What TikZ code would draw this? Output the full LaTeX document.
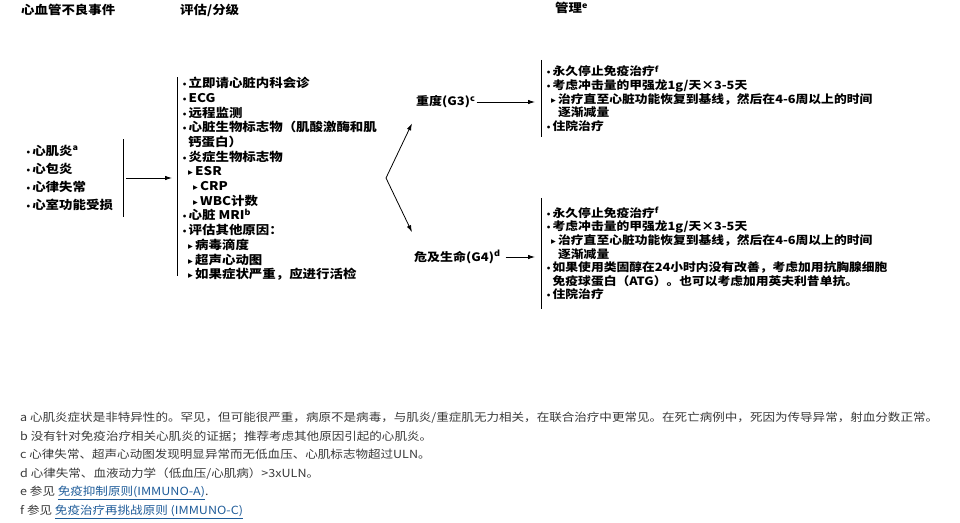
\documentclass[tikz,border=0pt]{standalone}
\usepackage{fontspec}
\setmainfont{Noto Sans CJK SC}[FakeStretch=1.12]
\newfontfamily\symfont{DejaVu Sans}
\usepackage{tikz}
\usetikzlibrary{arrows.meta,positioning}
\definecolor{linkblue}{HTML}{1F5C99}
\definecolor{notegray}{HTML}{3A3A3A}
\newcommand{\bul}{\makebox[6.5pt][l]{\symfont\fontsize{8}{8}\selectfont •}}
\newcommand{\tri}{\makebox[7pt][l]{\symfont\fontsize{9.5}{9}\selectfont ▸}}
\newcommand{\lnk}[1]{\textcolor{linkblue}{\underline{#1}}}

\begin{document}
\begin{tikzpicture}[
    x=1pt, y=-1pt,
    hdr/.style={anchor=west, inner sep=0pt, font=\fontsize{12}{14}\selectfont\bfseries},
    lst/.style={align=left, inner ysep=0pt, inner xsep=5pt, font=\fontsize{12}{14.7}\selectfont\bfseries},
    act/.style={lst, anchor=west, font=\fontsize{11.4}{13.6}\selectfont\bfseries},
    grade/.style={anchor=west, inner sep=1pt, font=\fontsize{11.6}{13}\selectfont\bfseries},
    bar/.style={line width=0.8pt},
    link/.style={->, line width=0.8pt},
    >={Latex[length=7pt,width=4.5pt]}
]

\useasboundingbox (0,0) rectangle (960,522);

\node[hdr] (hevent) at (21,10) {心血管不良事件};
\node[hdr] (hassess) at (180,10) {评估/分级};
\node[hdr] (hmanage) at (555,8) {管理\textsuperscript{e}};

\node[lst, anchor=east, text width=94pt, minimum height=77pt, inner xsep=3pt, font=\fontsize{12}{18.3}\selectfont\bfseries] (events) at (123,178)
    {\bul 心肌炎\textsuperscript{a}\\ \bul 心包炎\\ \bul 心律失常\\ \bul 心室功能受损};

\node[lst, anchor=north west] (assess) at (177,77)
    {\bul 立即请心脏内科会诊\\
     \bul ECG\\
     \bul 远程监测\\
     \bul 心脏生物标志物（肌酸激酶和肌\\
     \hspace*{6pt}钙蛋白）\\
     \bul 炎症生物标志物\\
     \hspace*{6pt}\tri ESR\\
     \hspace*{11pt}\tri CRP\\
     \hspace*{11pt}\tri WBC计数\\
     \bul 心脏 MRI\textsuperscript{b}\\
     \bul 评估其他原因：\\
     \hspace*{6pt}\tri 病毒滴度\\
     \hspace*{6pt}\tri 超声心动图\\
     \hspace*{6pt}\tri 如果症状严重，应进行活检};

\draw[bar] (events.north east) -- (events.south east);
\draw[bar] (assess.north west) -- ([yshift=5pt]assess.south west);
\draw[link, shorten <=3pt, shorten >=5pt] (events.east) -- (events.east -| assess.west);

\coordinate (fork) at (386,178);

\node[grade] (sev) at (415,102) {重度(G3)\textsuperscript{c}};
\node[grade] (life) at (413,257) {危及生命(G4)\textsuperscript{d}};

\draw[link] (fork) -- ([shift={(-3,14)}]sev.south west);
\draw[link] (fork) -- ([shift={(-1,-17)}]life.north west);

\node[act, minimum height=77pt] (g3act) at (541,98.5)
    {\bul 永久停止免疫治疗\textsuperscript{f}\\
     \bul 考虑冲击量的甲强龙1g/天×3-5天\\
     \hspace*{5pt}\tri 治疗直至心脏功能恢复到基线，然后在4-6周以上的时间\\
     \hspace*{12pt}逐渐减量\\
     \bul 住院治疗};

\node[act, minimum height=111pt] (g4act) at (541,253.5)
    {\bul 永久停止免疫治疗\textsuperscript{f}\\
     \bul 考虑冲击量的甲强龙1g/天×3-5天\\
     \hspace*{5pt}\tri 治疗直至心脏功能恢复到基线，然后在4-6周以上的时间\\
     \hspace*{12pt}逐渐减量\\
     \bul 如果使用类固醇在24小时内没有改善，考虑加用抗胸腺细胞\\
     \hspace*{6.5pt}免疫球蛋白（ATG）。也可以考虑加用英夫利昔单抗。\\
     \bul 住院治疗};

\draw[bar] (g3act.north west) -- (g3act.south west);
\draw[bar] (g4act.north west) -- (g4act.south west);
\draw[link, shorten >=6pt] (sev.east) -- (sev.east -| g3act.west);
\draw[link, shorten <=4pt, shorten >=6pt] (life.east) -- (life.east -| g4act.west);

\node[anchor=north west, align=left, inner sep=0pt, text=notegray, font=\fontsize{11.2}{18.5}\selectfont] (notes) at (20,412)
    {a 心肌炎症状是非特异性的。罕见，但可能很严重，病原不是病毒，与肌炎/重症肌无力相关，在联合治疗中更常见。在死亡病例中，死因为传导异常，射血分数正常。\\
     b 没有针对免疫治疗相关心肌炎的证据；推荐考虑其他原因引起的心肌炎。\\
     c 心律失常、超声心动图发现明显异常而无低血压、心肌标志物超过ULN。\\
     d 心律失常、血液动力学（低血压/心肌病）>3xULN。\\
     e 参见 \lnk{免疫抑制原则(IMMUNO-A)}.\\
     f 参见 \lnk{免疫治疗再挑战原则 (IMMUNO-C)}};

\end{tikzpicture}
\end{document}
